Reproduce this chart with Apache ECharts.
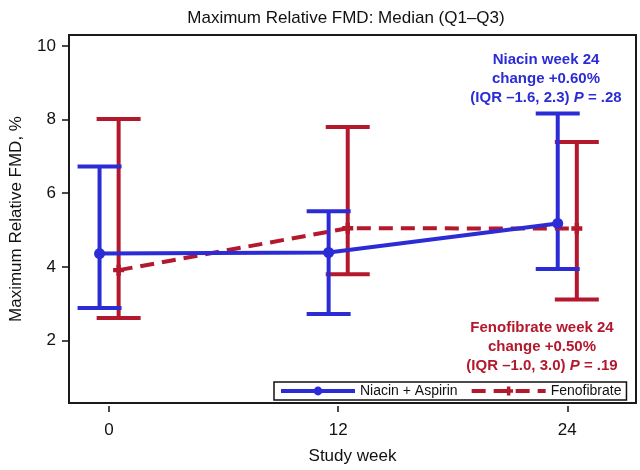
<!DOCTYPE html>
<html>
<head>
<meta charset="utf-8">
<script src="https://cdn.jsdelivr.net/npm/echarts@6/dist/echarts.min.js"></script>
<style>html,body{margin:0;padding:0;background:#fff}#c{width:640px;height:470px}</style>
</head>
<body>
<div id="c"></div>
<script>
// ---- data ----
const weeks = [0, 12, 24];
const niacinMedian = [4.36, 4.39, 5.18];
const niacinQ1 = [2.88, 2.72, 3.94];
const niacinQ3 = [6.73, 5.51, 8.17];
const fenoMedian = [3.91, 5.05, 5.04];
const fenoQ1 = [2.61, 3.80, 3.11];
const fenoQ3 = [8.02, 7.80, 7.39];
const xTicks = [0, 12, 24];
const yTicks = [2, 4, 6, 8, 10];
const seriesNames = ['Niacin + Aspirin', 'Fenofibrate'];

// ---- styling ----
const BLUE = '#2c2cd6';
const RED = '#b3182d';
const FONT = "'Liberation Sans', Arial, sans-serif";
const OFF = 0.5; // horizontal dodge in weeks

function errRender(color) {
  return function (params, api) {
    const x = api.value(0), lo = api.value(1), hi = api.value(2);
    const a = api.coord([x, lo]), b = api.coord([x, hi]);
    const hw = 22;
    const st = { stroke: color, lineWidth: 4 };
    return {
      type: 'group',
      children: [
        { type: 'line', shape: { x1: a[0], y1: a[1], x2: b[0], y2: b[1] }, style: st },
        { type: 'line', shape: { x1: a[0] - hw, y1: a[1], x2: a[0] + hw, y2: a[1] }, style: st },
        { type: 'line', shape: { x1: b[0] - hw, y1: b[1], x2: b[0] + hw, y2: b[1] }, style: st }
      ]
    };
  };
}

const niacinErr = weeks.map((w, i) => [w - OFF, niacinQ1[i], niacinQ3[i]]);
const fenoErr = weeks.map((w, i) => [w + OFF, fenoQ1[i], fenoQ3[i]]);
const niacinLine = weeks.map((w, i) => [w - OFF, niacinMedian[i]]);
const fenoLine = weeks.map((w, i) => [w + OFF, fenoMedian[i]]);

const chart = echarts.init(document.getElementById('c'), null, { renderer: 'canvas' });
chart.setOption({
  animation: false,
  backgroundColor: '#fff',
  textStyle: { fontFamily: FONT },
  title: [
    {
      text: 'Maximum Relative FMD: Median (Q1–Q3)',
      left: 341, top: 5, textAlign: 'center',
      textStyle: { fontFamily: FONT, fontSize: 17, fontWeight: 'normal', color: '#111' }
    },
    {
      text: 'Niacin week 24\nchange +0.60%\n(IQR –1.6, 2.3) {i|P} = .28',
      left: 541, top: 45, textAlign: 'center',
      textStyle: {
        fontFamily: FONT, fontSize: 15, fontWeight: 'bold', color: BLUE, lineHeight: 19, align: 'center',
        rich: { i: { fontFamily: FONT, fontSize: 15, fontWeight: 'bold', fontStyle: 'italic', color: BLUE, lineHeight: 19 } }
      }
    },
    {
      text: 'Fenofibrate week 24\nchange +0.50%\n(IQR –1.0, 3.0) {i|P} = .19',
      left: 537, top: 313, textAlign: 'center',
      textStyle: {
        fontFamily: FONT, fontSize: 15, fontWeight: 'bold', color: RED, lineHeight: 19, align: 'center',
        rich: { i: { fontFamily: FONT, fontSize: 15, fontWeight: 'bold', fontStyle: 'italic', color: RED, lineHeight: 19 } }
      }
    }
  ],
  grid: {
    left: 66, right: 4, top: 35, bottom: 66,
    show: true, borderColor: '#1a1a1a', borderWidth: 2, backgroundColor: '#fff'
  },
  legend: {
    data: seriesNames,
    left: 274, top: 382,
    orient: 'horizontal',
    itemWidth: 74, itemHeight: 11, itemGap: 12,
    padding: [2, 5, 2, 5],
    borderColor: '#111', borderWidth: 1.5,
    backgroundColor: '#fff',
    lineStyle: { width: 4 },
    textStyle: { fontFamily: FONT, fontSize: 14, color: '#111' }
  },
  xAxis: {
    type: 'value', min: -2.1, max: 27.6,
    offset: 3,
    name: 'Study week', nameLocation: 'middle', nameGap: 42,
    nameTextStyle: { fontFamily: FONT, fontSize: 17, color: '#111' },
    axisLine: { show: false, onZero: false },
    axisTick: { show: true, length: 6, lineStyle: { color: '#111', width: 1.5 }, customValues: xTicks },
    axisLabel: { fontFamily: FONT, fontSize: 17, color: '#111', margin: 16, customValues: xTicks },
    splitLine: { show: false }
  },
  yAxis: {
    type: 'value', min: 0.3, max: 10.3,
    name: 'Maximum Relative FMD, %', nameLocation: 'middle', nameGap: 44,
    nameTextStyle: { fontFamily: FONT, fontSize: 17, color: '#111' },
    axisLine: { show: false, onZero: false },
    axisTick: { show: true, length: 7, lineStyle: { color: '#111', width: 1.5 }, customValues: yTicks },
    axisLabel: { fontFamily: FONT, fontSize: 17, color: '#111', margin: 13, customValues: yTicks },
    splitLine: { show: false }
  },
  series: [
    {
      type: 'custom', name: 'fenoErr', renderItem: errRender(RED), data: fenoErr,
      encode: { x: 0, y: [1, 2] }, z: 2, silent: true
    },
    {
      type: 'custom', name: 'niacinErr', renderItem: errRender(BLUE), data: niacinErr,
      encode: { x: 0, y: [1, 2] }, z: 3, silent: true
    },
    {
      type: 'line', name: seriesNames[1], data: fenoLine, z: 4,
      symbol: 'path://M3,0H7V3H10V7H7V10H3V7H0V3H3Z', symbolSize: 11,
      itemStyle: { color: RED },
      lineStyle: { color: RED, width: 4, type: [14, 8] }
    },
    {
      type: 'line', name: seriesNames[0], data: niacinLine, z: 5,
      symbol: 'circle', symbolSize: 11,
      itemStyle: { color: BLUE },
      lineStyle: { color: BLUE, width: 4 }
    }
  ]
});
</script>
</body>
</html>
